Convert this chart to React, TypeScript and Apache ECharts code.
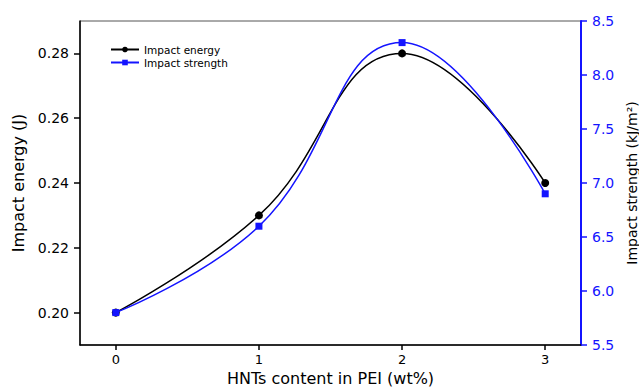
import React, { useEffect, useRef } from "react";
import * as echarts from "echarts";

const xValues = [0, 1, 2, 3];
const impactEnergy = [0.2, 0.23, 0.28, 0.24];
const impactStrength = [5.8, 6.6, 8.3, 6.9];
const xTicks = [0, 1, 2, 3];
const leftTicks = [0.2, 0.22, 0.24, 0.26, 0.28];
const rightTicks = [5.5, 6.0, 6.5, 7.0, 7.5, 8.0, 8.5];

const BLUE = "#1414ff";
const FONT = "DejaVu Sans, sans-serif";

export default function App() {
  const ref = useRef<HTMLDivElement>(null);
  useEffect(() => {
    if (!ref.current) return;
    const chart = echarts.init(ref.current, undefined, { renderer: "svg" });
    chart.setOption({
      animation: false,
      textStyle: { fontFamily: FONT },
      grid: {
        left: 80,
        right: 58,
        top: 21,
        bottom: 42,
        show: true,
        borderColor: "#555",
        borderWidth: 1,
        outerBoundsMode: "none",
        containLabel: false,
      },
      legend: {
        orient: "vertical",
        left: 105,
        top: 39,
        itemWidth: 28,
        itemHeight: 7,
        itemGap: 2,
        textStyle: { fontSize: 10.5, color: "#000", fontFamily: FONT },
        data: ["Impact energy", "Impact strength"],
      },
      xAxis: {
        type: "value",
        min: -0.25,
        max: 3.25,
        name: "HNTs content in PEI (wt%)",
        nameLocation: "middle",
        nameGap: 23,
        nameTextStyle: { fontSize: 16, color: "#000", fontFamily: FONT },
        axisLine: { onZero: false, lineStyle: { color: "#000", width: 1.5 } },
        axisTick: { show: true, customValues: xTicks, length: 5, lineStyle: { color: "#000", width: 1.5 } },
        axisLabel: { customValues: xTicks, fontSize: 13, color: "#000", margin: 8, fontFamily: FONT },
        splitLine: { show: false },
      },
      yAxis: [
        {
          type: "value",
          min: 0.19,
          max: 0.29,
          name: "Impact energy (J)",
          nameLocation: "middle",
          nameGap: 52,
          nameTextStyle: { fontSize: 16, color: "#000", fontFamily: FONT },
          axisLine: { show: true, onZero: false, lineStyle: { color: "#000", width: 1.5 } },
          axisTick: { show: true, customValues: leftTicks, length: 6, lineStyle: { color: "#000", width: 1.5 } },
          axisLabel: {
            customValues: leftTicks,
            fontSize: 14,
            color: "#000",
            margin: 11,
            fontFamily: FONT,
            formatter: (v: number) => v.toFixed(2),
          },
          splitLine: { show: false },
        },
        {
          type: "value",
          min: 5.5,
          max: 8.5,
          position: "right",
          name: "Impact strength (kJ/m²)",
          nameLocation: "middle",
          nameGap: 21,
          nameTextStyle: { fontSize: 14, color: "#000", fontFamily: FONT },
          axisLine: { show: true, onZero: false, lineStyle: { color: BLUE, width: 2 } },
          axisTick: { show: true, customValues: rightTicks, length: 6, lineStyle: { color: BLUE, width: 1.5 } },
          axisLabel: {
            customValues: rightTicks,
            fontSize: 14,
            color: BLUE,
            margin: 11,
            fontFamily: FONT,
            formatter: (v: number) => v.toFixed(1),
          },
          splitLine: { show: false },
        },
      ],
      series: [
        {
          name: "Impact energy",
          type: "line",
          yAxisIndex: 0,
          smooth: 0.45,
          symbol: "circle",
          symbolSize: 8,
          itemStyle: { color: "#000" },
          lineStyle: { color: "#000", width: 1.5 },
          data: xValues.map((x, i) => [x, impactEnergy[i]]),
          z: 3,
        },
        {
          name: "Impact strength",
          type: "line",
          yAxisIndex: 1,
          smooth: 0.45,
          symbol: "rect",
          symbolSize: 7,
          itemStyle: { color: BLUE },
          lineStyle: { color: BLUE, width: 1.5 },
          data: xValues.map((x, i) => [x, impactStrength[i]]),
          z: 4,
        },
      ],
    });
    return () => chart.dispose();
  }, []);
  return <div ref={ref} style={{ width: 639, height: 387, position: "absolute", left: 0, top: 0 }} />;
}
